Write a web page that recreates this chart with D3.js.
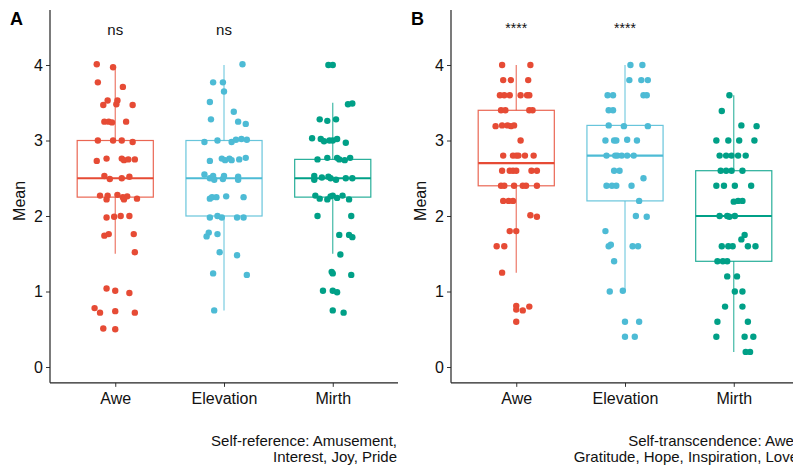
<!DOCTYPE html>
<html>
<head>
<meta charset="utf-8">
<script src="https://cdn.jsdelivr.net/npm/d3@7"></script>
<style>
  body { margin: 0; background: #fff; }
  svg { display: block; }
  text { font-family: "Liberation Sans", Arial, sans-serif; }
</style>
</head>
<body>
<svg id="viz"></svg>
<script>
// ----------------------------------------------------------------------------------------------------------------
// DATA

var categories = ["Awe", "Elevation", "Mirth"];
var yTicks = [0, 1, 2, 3, 4];

// [jitter (in category units), mean]
var refAwe = [
  [-0.17, 4.01], [-0.02, 3.97], [-0.16, 3.77], [0.07, 3.71], [-0.07, 3.53], [0.02, 3.53], [-0.11, 3.47],
  [0.01, 3.48], [0.16, 3.47], [-0.10, 3.25], [-0.06, 3.25], [-0.03, 3.24], [0.10, 3.25], [-0.16, 3.0],
  [-0.02, 3.0], [0.06, 3.0], [0.16, 2.98], [-0.17, 2.73], [-0.08, 2.76], [0.06, 2.76], [0.08, 2.74],
  [0.12, 2.75], [0.18, 2.75], [-0.10, 2.53], [-0.05, 2.49], [0.06, 2.5], [0.13, 2.52], [-0.14, 2.27],
  [-0.08, 2.22], [-0.07, 2.27], [0.02, 2.28], [0.07, 2.25], [0.08, 2.22], [0.11, 2.26], [0.20, 2.23],
  [-0.08, 1.98], [-0.01, 1.99], [0.05, 2.0], [0.13, 2.0], [-0.10, 1.74], [-0.06, 1.76], [0.17, 1.76],
  [0.18, 1.52], [-0.08, 1.04], [0.0, 1.01], [0.13, 0.98], [-0.19, 0.78], [-0.14, 0.72], [0.0, 0.74],
  [0.18, 0.72], [-0.11, 0.51], [0.0, 0.5]
];
var refElevation = [
  [0.17, 4.01], [-0.10, 3.77], [-0.01, 3.77], [0.0, 3.65], [-0.13, 3.51], [0.09, 3.38], [-0.12, 3.28],
  [0.13, 3.25], [0.20, 3.22], [-0.18, 2.98], [-0.06, 3.0], [0.07, 2.98], [0.11, 3.01], [0.16, 3.02],
  [0.21, 3.01], [-0.13, 2.73], [-0.02, 2.76], [0.01, 2.74], [0.05, 2.76], [0.07, 2.74], [0.14, 2.75],
  [0.20, 2.77], [-0.18, 2.55], [-0.13, 2.5], [-0.10, 2.53], [-0.09, 2.48], [-0.01, 2.49], [0.0, 2.53],
  [0.13, 2.52], [0.13, 2.48], [-0.13, 2.23], [-0.11, 2.25], [-0.07, 2.25], [0.02, 2.26], [0.18, 2.25],
  [-0.13, 1.98], [-0.06, 2.0], [-0.02, 1.98], [0.12, 1.98], [0.18, 1.98], [-0.16, 1.73], [-0.14, 1.78],
  [-0.06, 1.76], [-0.04, 1.52], [0.12, 1.48], [-0.10, 1.24], [0.21, 1.22], [-0.09, 0.75]
];
var refMirth = [
  [-0.04, 4.0], [0.0, 4.0], [0.14, 3.48], [0.18, 3.49], [-0.12, 3.28], [-0.05, 3.26], [0.03, 3.28],
  [-0.19, 3.03], [-0.11, 3.02], [-0.08, 2.99], [-0.03, 3.0], [0.0, 3.0], [0.04, 3.02], [0.12, 2.97],
  [-0.14, 2.75], [-0.05, 2.77], [0.04, 2.77], [0.06, 2.75], [0.11, 2.74], [0.16, 2.77], [-0.17, 2.53],
  [-0.17, 2.48], [-0.10, 2.51], [-0.04, 2.52], [-0.02, 2.5], [0.03, 2.48], [0.12, 2.5], [0.18, 2.5],
  [-0.16, 2.27], [-0.12, 2.23], [-0.05, 2.22], [-0.02, 2.26], [0.0, 2.27], [0.04, 2.24], [0.09, 2.27],
  [0.15, 2.22], [-0.14, 2.0], [0.17, 2.0], [0.06, 1.75], [0.15, 1.75], [0.18, 1.72], [0.07, 1.49],
  [-0.01, 1.26], [0.0, 1.24], [0.17, 1.22], [-0.09, 1.01], [0.0, 1.01], [0.04, 0.99], [0.0, 0.75],
  [0.10, 0.72]
];

var transAwe = [
  [-0.13, 4.0], [0.13, 4.0], [-0.12, 3.8], [-0.05, 3.8], [0.11, 3.8], [-0.15, 3.6], [-0.11, 3.6],
  [-0.06, 3.6], [0.04, 3.6], [0.10, 3.6], [0.12, 3.6], [-0.14, 3.4], [-0.10, 3.4], [0.12, 3.4],
  [0.15, 3.4], [-0.19, 3.19], [-0.13, 3.2], [-0.08, 3.2], [-0.05, 3.19], [-0.02, 3.2], [0.04, 3.0],
  [-0.12, 2.8], [-0.03, 2.8], [0.0, 2.8], [0.02, 2.8], [0.08, 2.8], [0.16, 2.8], [-0.13, 2.6],
  [-0.06, 2.6], [-0.03, 2.6], [0.0, 2.6], [0.14, 2.6], [0.19, 2.6], [-0.14, 2.4], [-0.11, 2.4],
  [-0.02, 2.4], [0.06, 2.4], [0.09, 2.4], [0.19, 2.4], [-0.12, 2.2], [-0.07, 2.2], [-0.03, 2.2],
  [0.13, 2.01], [0.19, 1.99], [-0.06, 1.8], [0.0, 1.8], [-0.18, 1.6], [-0.11, 1.6], [-0.13, 1.25],
  [0.0, 0.81], [0.0, 0.76], [0.06, 0.75], [0.12, 0.8], [0.0, 0.6]
];
var transElevation = [
  [0.05, 4.0], [0.16, 4.0], [0.04, 3.8], [0.15, 3.8], [0.21, 3.8], [-0.16, 3.6], [-0.11, 3.6],
  [0.17, 3.6], [0.20, 3.6], [-0.15, 3.4], [-0.11, 3.4], [-0.15, 3.2], [-0.01, 3.19], [0.21, 3.19],
  [-0.18, 3.0], [-0.10, 3.0], [-0.08, 3.0], [0.02, 3.01], [0.11, 3.0], [-0.17, 2.8], [-0.09, 2.8],
  [-0.07, 2.8], [-0.03, 2.8], [0.02, 2.8], [0.08, 2.8], [-0.10, 2.6], [-0.05, 2.6], [0.17, 2.5],
  [-0.17, 2.4], [-0.12, 2.4], [-0.08, 2.4], [0.06, 2.4], [0.13, 2.2], [0.10, 2.0], [0.20, 1.99],
  [-0.18, 1.8], [-0.15, 1.6], [-0.13, 1.62], [0.07, 1.6], [0.12, 1.6], [-0.10, 1.4], [-0.14, 1.0],
  [-0.02, 1.01], [0.0, 0.6], [0.13, 0.6], [0.0, 0.4], [0.09, 0.4]
];
var transMirth = [
  [-0.04, 3.6], [-0.11, 3.39], [0.07, 3.2], [0.21, 3.19], [-0.16, 3.0], [-0.05, 3.0], [0.05, 3.0],
  [0.19, 3.0], [-0.13, 2.8], [-0.07, 2.8], [-0.02, 2.8], [0.04, 2.8], [0.11, 2.8], [-0.12, 2.6],
  [-0.07, 2.6], [-0.02, 2.6], [0.08, 2.6], [-0.16, 2.4], [-0.09, 2.4], [0.01, 2.4], [0.16, 2.4],
  [0.0, 2.19], [0.04, 2.2], [0.08, 2.2], [-0.13, 2.0], [-0.06, 2.0], [-0.04, 1.99], [0.01, 2.0],
  [0.10, 1.75], [0.07, 1.69], [-0.11, 1.6], [-0.05, 1.6], [-0.01, 1.6], [0.13, 1.6], [0.20, 1.6],
  [-0.15, 1.4], [-0.10, 1.4], [-0.06, 1.4], [-0.06, 1.2], [0.03, 1.2], [0.01, 1.0], [0.08, 1.0],
  [-0.08, 0.8], [0.08, 0.8], [-0.15, 0.6], [0.13, 0.6], [-0.16, 0.4], [0.10, 0.4], [0.18, 0.4],
  [0.11, 0.2], [0.15, 0.2]
];

// box stats per category: [lower whisker, q1, median, q3, upper whisker]
var refBoxes = [[1.5, 2.25, 2.5, 3.0, 3.97], [0.75, 2.0, 2.5, 3.0, 4.0], [1.5, 2.25, 2.5, 2.75, 3.5]];
var transBoxes = [[1.25, 2.4, 2.7, 3.4, 4.0], [1.0, 2.2, 2.8, 3.2, 4.0], [0.2, 1.4, 2.0, 2.6, 3.6]];

var refSignif = ["ns", "ns", ""];
var transSignif = ["****", "****", ""];

var refCaption = ["Self-reference: Amusement,", "Interest, Joy, Pride"];
var transCaption = ["Self-transcendence: Awe,", "Gratitude, Hope, Inspiration, Love"];

var palette = ["#E64B35", "#4DBBD5", "#00A087"];

// ----------------------------------------------------------------------------------------------------------------
// INITIAL SETUP

var w = 793;
var h = 465;
var viz = d3.select("#viz").attr("width", w).attr("height", h);

var y = d3.scaleLinear().domain([0, 4]).range([367, 65]);

function drawPanel(left, label, groups, boxes, signif, caption) {
  var x = d3.scaleLinear().domain([0.4, 3.6]).range([left, left + 348]);
  var g = viz.append("g");
  var bw = x(0.35) - x(0);

  // boxes and whiskers
  var box = g.selectAll("g.box")
    .data(boxes)
    .enter()
    .append("g")
    .attr("class", "box");

  box.append("line")
    .attr("x1", function(d, i) { return x(i + 1); })
    .attr("x2", function(d, i) { return x(i + 1); })
    .attr("y1", function(d) { return y(d[0]); })
    .attr("y2", function(d) { return y(d[1]); })
    .attr("stroke", function(d, i) { return palette[i]; })
    .attr("stroke-opacity", 0.75)
    .attr("stroke-width", 1.2);
  box.append("line")
    .attr("x1", function(d, i) { return x(i + 1); })
    .attr("x2", function(d, i) { return x(i + 1); })
    .attr("y1", function(d) { return y(d[3]); })
    .attr("y2", function(d) { return y(d[4]); })
    .attr("stroke", function(d, i) { return palette[i]; })
    .attr("stroke-opacity", 0.75)
    .attr("stroke-width", 1.2);
  box.append("rect")
    .attr("x", function(d, i) { return x(i + 1) - bw; })
    .attr("width", bw * 2)
    .attr("y", function(d) { return y(d[3]); })
    .attr("height", function(d) { return y(d[1]) - y(d[3]); })
    .attr("fill", "none")
    .attr("stroke", function(d, i) { return palette[i]; })
    .attr("stroke-opacity", 0.85)
    .attr("stroke-width", 1.2);
  box.append("line")
    .attr("x1", function(d, i) { return x(i + 1) - bw; })
    .attr("x2", function(d, i) { return x(i + 1) + bw; })
    .attr("y1", function(d) { return y(d[2]); })
    .attr("y2", function(d) { return y(d[2]); })
    .attr("stroke", function(d, i) { return palette[i]; })
    .attr("stroke-width", 2.2);

  // jittered points
  groups.forEach(function(pts, i) {
    g.selectAll(null)
      .data(pts)
      .enter()
      .append("circle")
      .attr("cx", function(d) { return x(i + 1 + d[0]); })
      .attr("cy", function(d) { return y(d[1]); })
      .attr("r", 3.2)
      .attr("fill", palette[i]);
  });

  // axes
  var yAxis = d3.axisLeft(y).tickValues(yTicks).tickFormat(d3.format("d")).tickSize(4).tickPadding(3);
  var ya = g.append("g").attr("transform", "translate(" + left + ",0)").call(yAxis);
  ya.select(".domain").remove();
  g.append("line")
    .attr("x1", left).attr("x2", left)
    .attr("y1", y(4.73)).attr("y2", y(-0.21))
    .attr("stroke", "#222").attr("stroke-width", 1.2);

  var xAxis = d3.axisBottom(x).tickValues([1, 2, 3])
    .tickFormat(function(d) { return categories[d - 1]; })
    .tickSize(4).tickPadding(6);
  var xa = g.append("g").attr("transform", "translate(0," + y(-0.21) + ")").call(xAxis);
  xa.select(".domain").remove();
  g.append("line")
    .attr("x1", left).attr("x2", left + 348)
    .attr("y1", y(-0.21)).attr("y2", y(-0.21))
    .attr("stroke", "#222").attr("stroke-width", 1.2);

  g.selectAll(".tick line").attr("stroke", "#333");
  g.selectAll(".tick text").attr("font-size", 16).attr("fill", "#111")
    .style("font-family", "'Liberation Sans', Arial, sans-serif");

  // y title
  g.append("text")
    .attr("transform", "translate(" + (left - 25) + "," + y(2.2) + ") rotate(-90)")
    .attr("text-anchor", "middle")
    .attr("font-size", 16)
    .attr("fill", "#111")
    .text("Mean");

  // significance labels
  g.selectAll("text.sig")
    .data(signif)
    .enter()
    .append("text")
    .attr("class", "sig")
    .attr("x", function(d, i) { return x(i + 1); })
    .attr("y", function(d) { return d === "ns" ? y(4.4) : y(4.42); })
    .attr("text-anchor", "middle")
    .attr("font-size", function(d) { return d === "ns" ? 15 : 14; })
    .attr("fill", "#111")
    .text(function(d) { return d; });

  // panel tag
  g.append("text")
    .attr("x", left - 40)
    .attr("y", 25)
    .attr("font-size", 18)
    .attr("font-weight", "bold")
    .text(label);

  // caption
  g.selectAll("text.cap")
    .data(caption)
    .enter()
    .append("text")
    .attr("class", "cap")
    .attr("x", left + 347)
    .attr("y", function(d, i) { return 446 + i * 16; })
    .attr("text-anchor", "end")
    .attr("font-size", 15)
    .attr("fill", "#111")
    .text(function(d) { return d; });
}

drawPanel(50, "A", [refAwe, refElevation, refMirth], refBoxes, refSignif, refCaption);
drawPanel(451, "B", [transAwe, transElevation, transMirth], transBoxes, transSignif, transCaption);
</script>
</body>
</html>
